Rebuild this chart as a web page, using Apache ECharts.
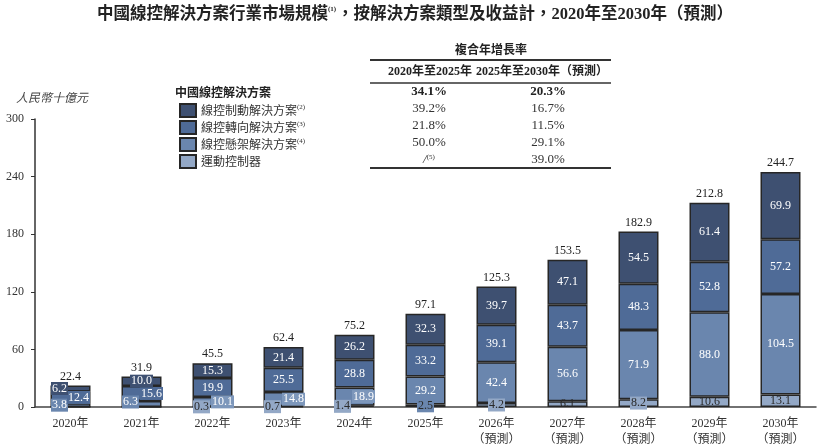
<!DOCTYPE html>
<html>
<head>
	<meta charset="utf-8">
	<title>線控解決方案市場規模</title>
	<script src="https://cdn.jsdelivr.net/npm/echarts@6/dist/echarts.min.js"></script>
	<style type="text/css">
		* {
			padding: 0;
			margin: 0;
		}
		html, body {
			background: #fff;
		}
		#chart {
			width: 830px;
			height: 448px;
		}
	</style>
</head>
<body>
	<div id="chart"></div>
	<script type="text/javascript">
		// values
		var years = ['2020年', '2021年', '2022年', '2023年', '2024年', '2025年',
			'2026年\n（預測）', '2027年\n（預測）', '2028年\n（預測）', '2029年\n（預測）', '2030年\n（預測）'];
		var brake = [6.2, 10.0, 15.3, 21.4, 26.2, 32.3, 39.7, 47.1, 54.5, 61.4, 69.9];
		var steer = [12.4, 15.6, 19.9, 25.5, 28.8, 33.2, 39.1, 43.7, 48.3, 52.8, 57.2];
		var suspension = [3.8, 6.3, 10.1, 14.8, 18.9, 29.2, 42.4, 56.6, 71.9, 88.0, 104.5];
		var motion = [0, 0, 0.3, 0.7, 1.4, 2.5, 4.2, 6.1, 8.2, 10.6, 13.1];
		var totals = [22.4, 31.9, 45.5, 62.4, 75.2, 97.1, 125.3, 153.5, 182.9, 212.8, 244.7];

		var cagrTotal = ['34.1%', '20.3%'];
		var cagr2025 = ['39.2%', '21.8%', '50.0%', '/'];
		var cagr2030 = ['16.7%', '11.5%', '29.1%', '39.0%'];
		var seriesNames = ['線控制動解決方案', '線控轉向解決方案', '線控懸架解決方案', '運動控制器'];
		var noteMarks = ['(2)', '(3)', '(4)', ''];

		var colors = ['#3e5071', '#4f6b97', '#6a86ae', '#93a8c6'];
		var serif = '"Liberation Serif", "Noto Sans CJK TC", serif';
		var cjk = '"Noto Sans CJK TC", "Liberation Serif", sans-serif';

		// label nudges for the thin segments (series index -> data index -> [dx, dy, background])
		var tweaks = {
			0: { 0: [-11, 0, '#3e5071'], 1: [0, 0, '#3e5071'] },
			1: { 0: [8, 0, '#4f6b97'], 1: [10, 0, '#4f6b97'] },
			2: { 0: [-11, 0, '#6a86ae'], 1: [-11, -2, '#6a86ae'], 2: [10, 0, '#7d97bb'], 3: [10, 0, '#7d97bb'], 4: [9, 0, '#7d97bb'] },
			3: { 2: [-11, 0, '#93a8c6'], 3: [-11, 0, '#93a8c6'], 4: [-12, 0, '#93a8c6'], 5: [0, 0, '#6a86ae'], 6: [0, 0, '#93a8c6'], 7: [0, 0, null], 8: [0, 0, '#93a8c6'] }
		};

		function buildData(si, arr) {
			return arr.map(function (v, i) {
				var item = { value: v };
				var t = tweaks[si] && tweaks[si][i];
				if (t) {
					item.label = { offset: [t[0], t[1]], padding: [1, 1, 0, 1] };
					if (t[2]) item.label.backgroundColor = t[2];
				}
				return item;
			});
		}

		var stacks = [motion, suspension, steer, brake];
		var order = [3, 2, 1, 0];
		var series = [];
		for (let k = 0; k < 4; k++) {
			let si = order[k];
			series.push({
				name: seriesNames[si],
				type: 'bar',
				stack: 'all',
				barWidth: 40,
				data: buildData(si, stacks[k]),
				itemStyle: {
					color: colors[si],
					borderColor: '#262626',
					borderWidth: 1.5
				},
				label: {
					show: true,
					position: 'inside',
					fontFamily: serif,
					fontSize: 12,
					color: si === 3 ? '#2a2a2a' : '#fff',
					formatter: function (p) {
						return p.value > 0 ? p.value.toFixed(1) : '';
					}
				},
				emphasis: { disabled: true }
			});
		}
		series.push({
			name: 'total',
			type: 'bar',
			stack: 'all',
			barWidth: 40,
			data: totals.map(function () { return 0; }),
			itemStyle: { color: 'transparent', borderWidth: 0 },
			label: {
				show: true,
				position: 'top',
				distance: 3,
				fontFamily: serif,
				fontSize: 12,
				color: '#222',
				formatter: function (p) {
					return totals[p.dataIndex].toFixed(1);
				}
			}
		});

		// growth table drawn as text and rules
		var colA = 429, colB = 548;
		var rowsY = [92, 109, 126, 143, 160];
		var graphics = [
			{ type: 'text', left: 16, top: 91, style: { text: '人民幣十億元', font: 'italic 12px ' + cjk, fill: '#444' } },
			{ type: 'text', x: 491, y: 49, style: { text: '複合年增長率', font: 'bold 12px ' + cjk, fill: '#222', align: 'center', verticalAlign: 'middle' } },
			{ type: 'line', shape: { x1: 370, y1: 60, x2: 611, y2: 60 }, style: { stroke: '#333', lineWidth: 2 } },
			{ type: 'text', x: 430, y: 72, style: { text: '2020年至2025年', font: 'bold 12px ' + serif, fill: '#222', align: 'center', verticalAlign: 'middle' } },
			{ type: 'text', x: 542, y: 72, style: { text: '2025年至2030年（預測）', font: 'bold 12px ' + serif, fill: '#222', align: 'center', verticalAlign: 'middle' } },
			{ type: 'line', shape: { x1: 370, y1: 83, x2: 611, y2: 83 }, style: { stroke: '#333', lineWidth: 1.5 } },
			{ type: 'line', shape: { x1: 370, y1: 168, x2: 611, y2: 168 }, style: { stroke: '#333', lineWidth: 2 } },
			{ type: 'text', x: 175, y: rowsY[0], style: { text: '中國線控解決方案', font: 'bold 12px ' + cjk, fill: '#222', verticalAlign: 'middle' } },
			{ type: 'text', x: colA, y: rowsY[0], style: { text: cagrTotal[0], font: 'bold 13px ' + serif, fill: '#222', align: 'center', verticalAlign: 'middle' } },
			{ type: 'text', x: colB, y: rowsY[0], style: { text: cagrTotal[1], font: 'bold 13px ' + serif, fill: '#222', align: 'center', verticalAlign: 'middle' } }
		];
		for (let i = 0; i < 4; i++) {
			graphics.push({ type: 'text', x: colA, y: rowsY[i + 1], style: {
				text: cagr2025[i] === '/' ? '{a|/}{s|(5)}' : cagr2025[i],
				rich: { a: { font: 'italic 13px ' + serif, fill: '#333' }, s: { font: '7px ' + serif, fill: '#333', verticalAlign: 'top', padding: [0, 0, 6, 0] } },
				font: '13px ' + serif, fill: '#333', align: 'center', verticalAlign: 'middle' } });
			graphics.push({ type: 'text', x: colB, y: rowsY[i + 1], style: { text: cagr2030[i], font: '13px ' + serif, fill: '#333', align: 'center', verticalAlign: 'middle' } });
		}

		var chart = echarts.init(document.getElementById('chart'));
		chart.setOption({
			animation: false,
			title: {
				text: '中國線控解決方案行業市場規模{s|(1)}，按解決方案類型及收益計，2020年至2030年（預測）',
				left: 'center',
				top: 1,
				textStyle: {
					fontFamily: serif,
					fontSize: 16.5,
					fontWeight: 'bold',
					color: '#222',
					rich: {
						s: { fontSize: 7, fontFamily: serif, color: '#222', verticalAlign: 'top', padding: [0, 1, 8, 0] }
					}
				}
			},
			legend: {
				data: seriesNames,
				orient: 'vertical',
				left: 179,
				top: 103,
				padding: 0,
				itemWidth: 16,
				itemHeight: 13,
				itemGap: 2,
				selectedMode: false,
				icon: 'rect',
				formatter: function (name) {
					var i = seriesNames.indexOf(name);
					return noteMarks[i] ? '{a|' + name + '}{s|' + noteMarks[i] + '}' : '{a|' + name + '}';
				},
				textStyle: {
					rich: {
						a: { fontFamily: cjk, fontSize: 12, color: '#333', lineHeight: 13 },
						s: { fontFamily: serif, fontSize: 7, color: '#333', verticalAlign: 'top', padding: [0, 0, 6, 0] }
					}
				}
			},
			grid: {
				left: 35,
				right: 14,
				top: 119,
				bottom: 41
			},
			xAxis: {
				type: 'category',
				data: years,
				axisLine: { lineStyle: { color: '#444', width: 1.5 } },
				axisTick: { show: false },
				axisLabel: {
					fontFamily: serif,
					fontSize: 12,
					color: '#333',
					lineHeight: 16,
					margin: 9
				}
			},
			yAxis: {
				type: 'value',
				min: 0,
				max: 300,
				interval: 60,
				axisLine: { show: true, lineStyle: { color: '#333', width: 1.5 } },
				axisTick: { show: true, length: 4, lineStyle: { color: '#333' } },
				splitLine: { show: false },
				axisLabel: {
					fontFamily: serif,
					fontSize: 12,
					color: '#333',
					margin: 11
				}
			},
			graphic: graphics,
			series: series
		});
	</script>
</body>
</html>
